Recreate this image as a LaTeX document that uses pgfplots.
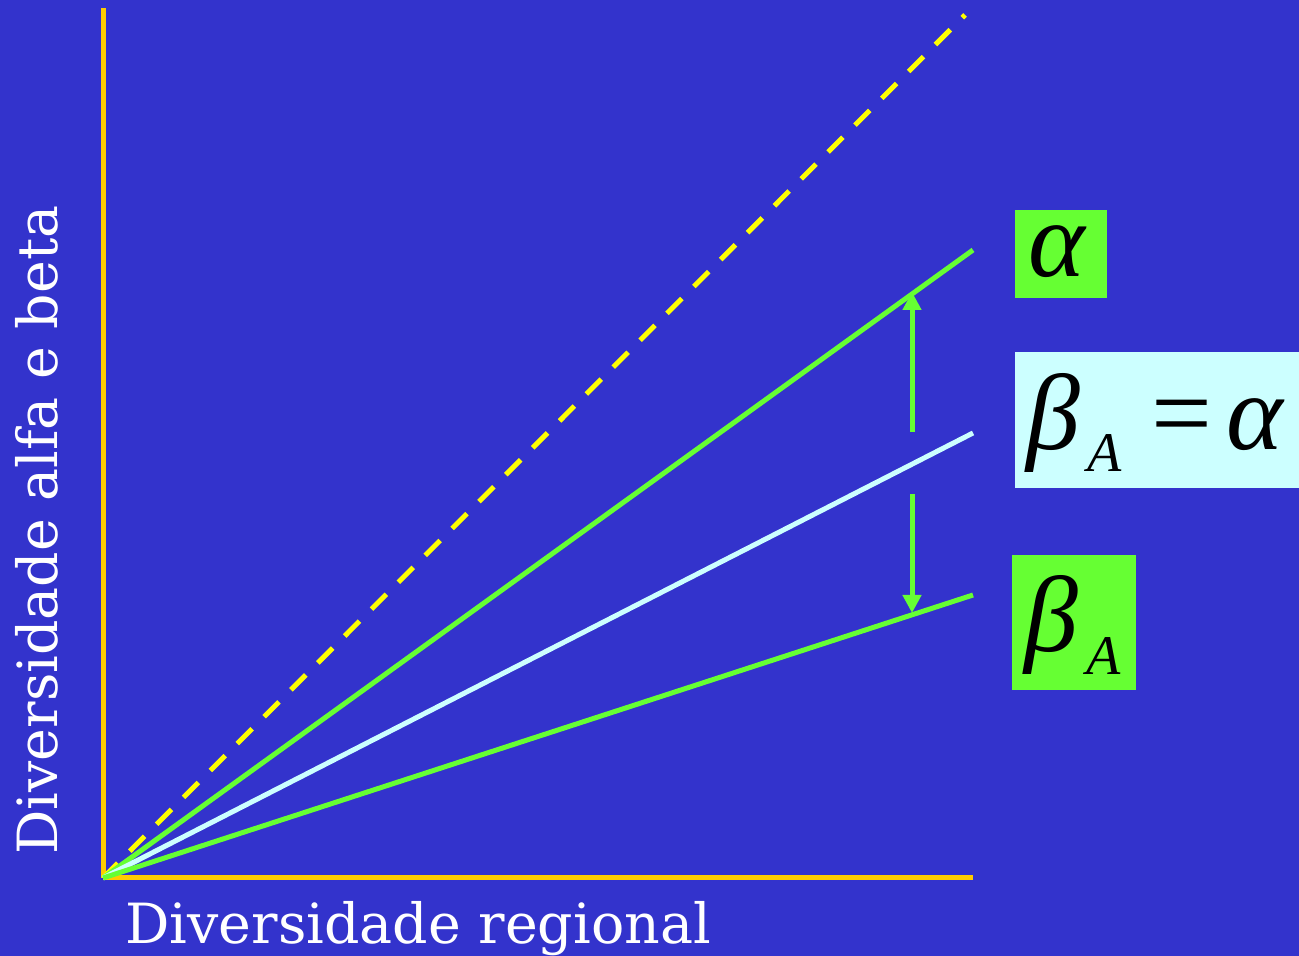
\documentclass[border=0pt]{standalone}
\usepackage{pgfplots}
\pgfplotsset{compat=1.18}
\usepackage{fontspec}
\setmainfont{DejaVu Serif}
\newfontfamily\tms{Liberation Serif}
\usetikzlibrary{arrows.meta}
\definecolor{bg}{HTML}{3333CC}
\definecolor{axorange}{HTML}{FFCC00}
\definecolor{lgreen}{HTML}{66FF33}
\definecolor{lcyan}{HTML}{CCFFFF}
\definecolor{lyellow}{HTML}{FFFF00}
\begin{document}
\begin{tikzpicture}
\useasboundingbox (0,0) rectangle (649.5pt,478pt);
\fill[bg] (0,0) rectangle (649.5pt,478pt);
\begin{axis}[
  at={(51.5pt,39pt)}, anchor=south west,
  scale only axis, width=435pt, height=435pt,
  xmin=0, xmax=870, ymin=0, ymax=870,
  axis x line=bottom, axis y line=left,
  axis line style={draw=axorange, line width=2.5pt, -},
  ticks=none,
  clip=false,
]
\addplot[lyellow, line width=2.5pt, dash pattern=on 10.5pt off 8.5pt] coordinates {(0,0) (862,863)};
\addplot[lgreen, line width=2.5pt] coordinates {(0,0) (870,628)};
\addplot[lcyan, line width=2.5pt] coordinates {(0,0) (870,445)};
\addplot[lgreen, line width=2.5pt] coordinates {(0,0) (870,283)};
\addplot[lgreen, line width=2.5pt, -{Triangle[length=9pt,width=9pt]}] coordinates {(809,446) (809,586)};
\addplot[lgreen, line width=2.5pt, -{Triangle[length=9pt,width=9pt]}] coordinates {(809,384) (809,265)};
\end{axis}
% x label
\node[anchor=base west, inner sep=0pt, text=white, font=\fontsize{27.7}{30}\selectfont] at (62.5pt,6pt) {Diversidade regional};
% y label
\node[anchor=base west, inner sep=0pt, text=white, rotate=90, font=\fontsize{27.7}{30}\selectfont] at (28.5pt,50.5pt) {Diversidade alfa e beta};
% alpha box
\fill[lgreen] (507.5pt,329pt) rectangle (553.5pt,373pt);
\node[anchor=base west, inner sep=0pt, font=\fontsize{54}{58}\selectfont\tms\itshape] at (514pt,339.5pt) {α};
% beta_A = alpha box
\fill[lcyan] (507.5pt,234pt) rectangle (649.5pt,302pt);
\node[anchor=base west, inner sep=0pt, font=\fontsize{54}{58}\selectfont\tms\itshape] at (513pt,253pt) {β};
\node[anchor=base west, inner sep=0pt, font=\fontsize{28}{30}\selectfont\tms\itshape] at (543.5pt,242pt) {A};
\node[anchor=base west, inner sep=0pt, font=\fontsize{54}{58}\selectfont\tms] at (575.5pt,253pt) {=};
\node[anchor=base west, inner sep=0pt, font=\fontsize{54}{58}\selectfont\tms\itshape] at (613pt,253pt) {α};
% beta_A box
\fill[lgreen] (506pt,133pt) rectangle (568pt,200.5pt);
\node[anchor=base west, inner sep=0pt, font=\fontsize{54}{58}\selectfont\tms\itshape] at (512pt,152pt) {β};
\node[anchor=base west, inner sep=0pt, font=\fontsize{28}{30}\selectfont\tms\itshape] at (543pt,140.5pt) {A};
\end{tikzpicture}
\end{document}
